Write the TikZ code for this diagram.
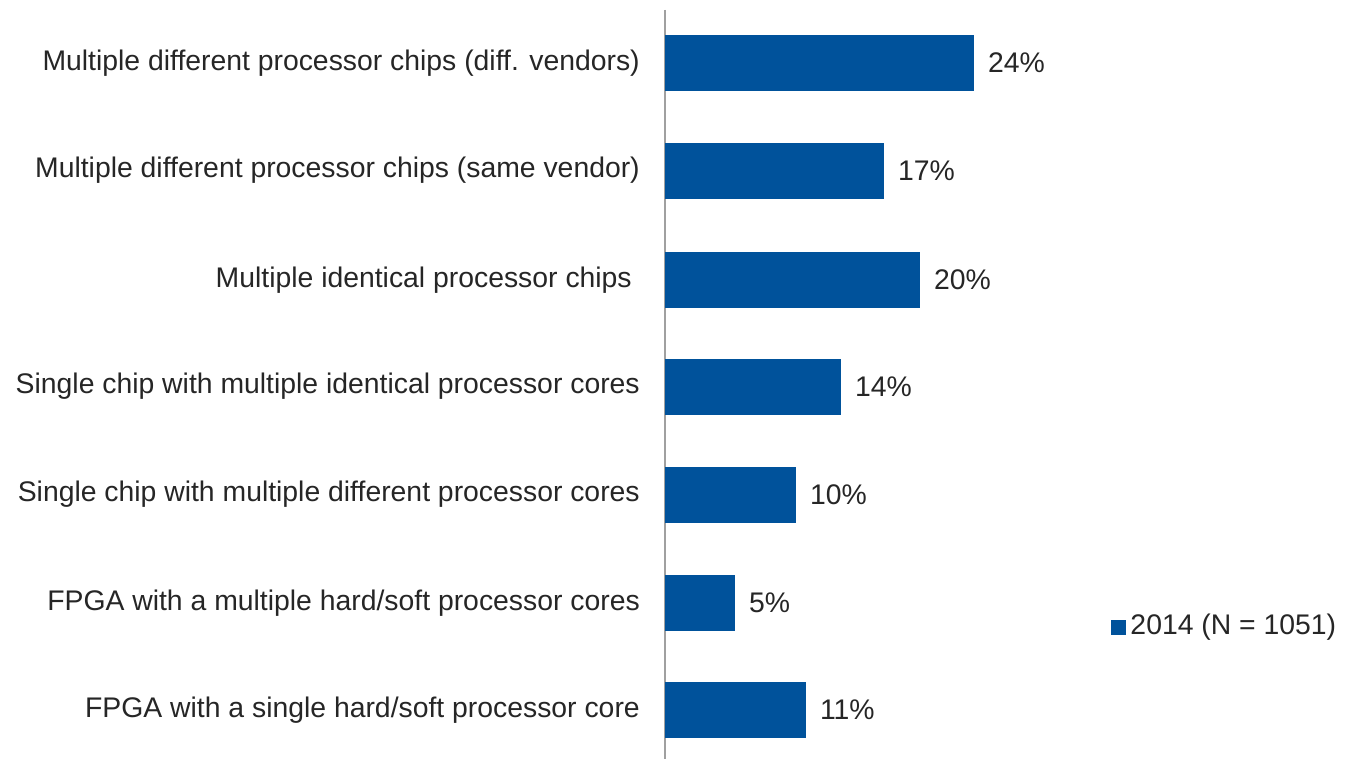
\documentclass[tikz,border=0pt]{standalone}
\usepackage{fontspec}
\setmainfont{Liberation Sans}
\usetikzlibrary{positioning}

\definecolor{barblue}{RGB}{0,82,155}
\definecolor{axisgray}{RGB}{160,160,160}
\definecolor{textdark}{RGB}{38,38,38}

\tikzset{
  bar/.style={fill=barblue, draw=none, inner sep=0pt, minimum height=1.68cm, anchor=west},
  cat/.style={anchor=east, inner sep=0pt, text=textdark, font=\fontsize{24.2}{28}\selectfont},
  val/.style={inner sep=0pt, text=textdark, font=\fontsize{24.2}{28}\selectfont},
}

\begin{document}
\begin{tikzpicture}[x=0.03cm, y=-0.03cm]
\useasboundingbox[fill=white] (0,0) rectangle (1353,759);

% axis
\coordinate (top) at (665,10);
\coordinate (bottom) at (665,759);
\draw[axisgray, line width=1.3pt] (top) -- (bottom);

% bars
\node[bar, minimum width=9.27cm] (b1) at (665,63) {};
\node[bar, minimum width=6.57cm] (b2) at (665,170.5) {};
\node[bar, minimum width=7.65cm] (b3) at (665,280) {};
\node[bar, minimum width=5.28cm] (b4) at (665,386.5) {};
\node[bar, minimum width=3.93cm] (b5) at (665,494.5) {};
\node[bar, minimum width=2.10cm] (b6) at (665,603) {};
\node[bar, minimum width=4.23cm] (b7) at (665,710) {};

% category labels
\node[cat] (c1) at (640,63) {Multiple different processor chips (diff. vendors)};
\node[cat] (c2) at (640,170.5) {Multiple different processor chips (same vendor)};
\node[cat] (c3) at (632,280) {Multiple identical processor chips};
\node[cat] (c4) at (640,386.5) {Single chip with multiple identical processor cores};
\node[cat] (c5) at (640,494.5) {Single chip with multiple different processor cores};
\node[cat] (c6) at (640,603) {FPGA with a multiple hard/soft processor cores};
\node[cat] (c7) at (640,710) {FPGA with a single hard/soft processor core};

% values
\node[val, right=0.4cm of b1] (v1) {24\%};
\node[val, right=0.4cm of b2] (v2) {17\%};
\node[val, right=0.4cm of b3] (v3) {20\%};
\node[val, right=0.4cm of b4] (v4) {14\%};
\node[val, right=0.4cm of b5] (v5) {10\%};
\node[val, right=0.4cm of b6] (v6) {5\%};
\node[val, right=0.4cm of b7] (v7) {11\%};

% legend
\node[fill=barblue, inner sep=0pt, minimum size=0.45cm] (key) at (1118.5,627.5) {};
\node[val, right=0.12cm of key] (keytext) {2014 (N = 1051)};
\end{tikzpicture}
\end{document}
